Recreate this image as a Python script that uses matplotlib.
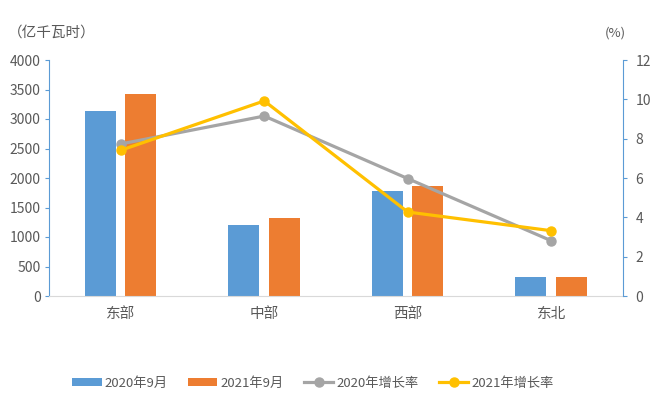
import matplotlib
matplotlib.use("Agg")
import matplotlib.pyplot as plt
import numpy as np
from matplotlib.lines import Line2D
from matplotlib.patches import Patch

plt.rcParams['font.family'] = ['Noto Sans CJK SC', 'DejaVu Sans']

categories = ['东部', '中部', '西部', '东北']
sep2020 = [3136, 1198, 1780, 316]
sep2021 = [3429, 1316, 1864, 328]
rate2020 = [7.73, 9.15, 5.97, 2.81]
rate2021 = [7.41, 9.92, 4.27, 3.32]

c_blue = '#5B9BD5'
c_orange = '#ED7D31'
c_gray = '#A5A5A5'
c_yellow = '#FFC000'
c_text = '#595959'

fig = plt.figure(figsize=(6.58, 3.97), dpi=100)
ax = fig.add_axes([49/658, 1-296/397, (623-49)/658, (296-60)/397])
ax2 = ax.twinx()

x = np.arange(len(categories))
w = 0.216
ax.bar(x - 0.143, sep2020, width=w, color=c_blue, zorder=2)
ax.bar(x + 0.141, sep2021, width=w, color=c_orange, zorder=2)

ax2.plot(x, rate2020, color=c_gray, lw=2.3, marker='o', ms=6.5, zorder=3)
ax2.plot(x, rate2021, color=c_yellow, lw=2.3, marker='o', ms=6.5, zorder=4)

ax.set_xlim(-0.5, 3.5)
ax.set_ylim(0, 4000)
ax.set_yticks(range(0, 4001, 500))
ax2.set_ylim(0, 12)
ax2.set_yticks(range(0, 13, 2))
ax.set_xticks(x)
ax.set_xticklabels(categories)

for a in (ax, ax2):
    a.spines['top'].set_visible(False)
    a.tick_params(colors=c_text, labelsize=10)
ax.spines['left'].set_color(c_blue)
ax.spines['right'].set_visible(False)
ax.spines['bottom'].set_color('#D9D9D9')
ax2.spines['right'].set_color(c_blue)
ax2.spines['left'].set_visible(False)
ax2.spines['bottom'].set_visible(False)
ax.tick_params(axis='y', color=c_blue, length=3, pad=3)
ax2.tick_params(axis='y', color=c_blue, length=3, pad=6)
ax.tick_params(axis='x', length=0, pad=8, labelsize=10.5)

fig.text(8/658, 1-33/397, '（亿千瓦时）', color=c_text, fontsize=10.5, va='center', ha='left')
fig.text(615/658, 1-33/397, '(%)', color=c_text, fontsize=9.5, va='center', ha='center')

handles = [
    Patch(facecolor=c_blue, edgecolor='none'),
    Patch(facecolor=c_orange, edgecolor='none'),
    Line2D([0], [0], color=c_gray, lw=2.3, marker='o', ms=6.5),
    Line2D([0], [0], color=c_yellow, lw=2.3, marker='o', ms=6.5),
]
labels = ['2020年9月', '2021年9月', '2020年增长率', '2021年增长率']
leg = fig.legend(handles, labels, loc='center', bbox_to_anchor=(313/658, 1-383/397),
                 ncol=4, frameon=False, fontsize=9.5, handlelength=2.2, handleheight=0.5,
                 handletextpad=0.2, columnspacing=1.6, labelcolor=c_text)

fig.savefig('out.png', dpi=100)
